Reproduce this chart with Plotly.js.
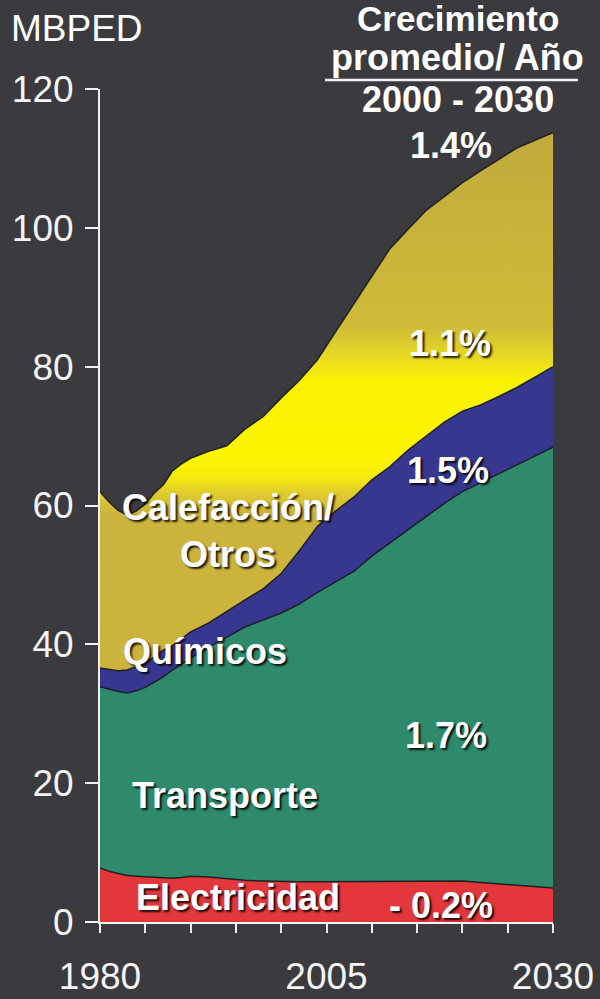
<!DOCTYPE html>
<html>
<head>
<meta charset="utf-8">
<script src="https://cdn.plot.ly/plotly-3.0.1.min.js"></script>
<style>
  html, body { margin: 0; padding: 0; background: #3b3a3f; }
  #chart { width: 600px; height: 999px; }
</style>
</head>
<body>
<div id="chart"></div>
<script>
// ---- data ----
const years = [1980,1981,1982,1983,1984,1985,1986,1987,1988,1989,1990,1992,1994,1996,1998,
               2000,2002,2004,2006,2008,2010,2012,2014,2016,2018,2020,2022,2024,2026,2028,2030];
const electricidad = [7.8,7.3,7.0,6.7,6.6,6.5,6.4,6.4,6.3,6.4,6.6,6.5,6.2,6.0,5.9,
                      5.8,5.8,5.8,5.8,5.8,5.8,5.8,5.8,5.9,5.9,5.9,5.7,5.5,5.3,5.1,4.9];
const transporte = [26.1,26.2,26.2,26.3,26.7,27.3,28.1,28.9,30.0,30.8,31.4,33.1,34.9,36.5,37.6,
                    38.7,40.0,41.7,43.2,44.7,46.9,48.8,50.8,52.6,54.4,56.1,57.6,59.1,60.6,62.1,63.5];
const quimicos = [2.7,2.9,3.0,3.3,3.5,3.5,3.7,3.9,3.5,3.6,3.8,3.5,3.7,3.9,4.5,
                  5.7,7.7,9.5,10.2,10.7,11.0,11.0,11.4,11.5,11.7,11.6,11.2,11.1,11.1,11.3,11.6];
const calefaccion = [25.4,24.1,23.1,22.3,22.4,22.9,23.6,23.8,25.2,25.2,25.0,24.7,23.8,24.6,24.8,
                     25.3,24.5,24.0,25.8,27.8,29.3,31.4,31.8,32.5,32.5,32.9,33.7,34.1,34.5,34.1,33.7];

const seriesLabels = ['Electricidad', 'Transporte', 'Químicos', 'Calefacción/<br>Otros'];
const growthLabels = ['- 0.2%', '1.7%', '1.5%', '1.1%', '1.4%'];
const headerLines = ['Crecimiento', 'promedio/ Año', '2000 - 2030'];
const yUnit = 'MBPED';
const yTickVals = [0, 20, 40, 60, 80, 100, 120];
const xTickVals = [1980,1985,1990,1995,2000,2005,2010,2015,2020,2025,2030];
const xTickText = ['1980','','','','','2005','','','','','2030'];

// ---- styling ----
const BG = '#3b3a3f';
const FONT = 'Liberation Sans, Arial, sans-serif';
const EDGE = {color: 'rgba(25,25,30,0.9)', width: 1.5};
const SHADOW = '2px 2px 2px rgba(0,0,0,0.85)';

const traces = [
  {x: years, y: electricidad, stackgroup: 'a', mode: 'lines', line: EDGE,
   fillcolor: '#e3373b', hoverinfo: 'skip'},
  {x: years, y: transporte, stackgroup: 'a', mode: 'lines', line: EDGE,
   fillcolor: '#2f8a6c', hoverinfo: 'skip'},
  {x: years, y: quimicos, stackgroup: 'a', mode: 'lines', line: EDGE,
   fillcolor: '#37378f', hoverinfo: 'skip'},
  {x: years, y: calefaccion, stackgroup: 'a', mode: 'lines', line: EDGE,
   fillcolor: '#cdb53c', hoverinfo: 'skip',
   fillgradient: {type: 'vertical', start: 0, stop: 120,
     colorscale: [[0, '#c9b23e'], [0.49, '#ccb43c'], [0.515, '#e0cc2e'], [0.535, '#f6ec0a'],
                  [0.56, '#fcf500'], [0.65, '#faf202'], [0.68, '#e6d824'], [0.715, '#cfbb38'],
                  [1, '#bda73e']]}}
];

// pixel -> paper helpers (plot area: x 100..553, y 89..922)
const PX0 = 100, PW = 453, PY0 = 922, PH = 833;
function ann(text, xp, yp, size, opts) {
  opts = opts || {};
  return Object.assign({
    xref: 'paper', yref: 'paper', x: (xp - PX0) / PW, y: (PY0 - yp) / PH,
    xanchor: 'center', yanchor: 'middle', showarrow: false, text: text,
    font: {family: FONT, size: size, color: '#ffffff', weight: opts.weight || 'bold',
           shadow: opts.shadow || 'none'}
  }, opts.extra || {});
}

const annotations = [
  ann(yUnit, 9, 28, 37, {weight: 'normal', extra: {xanchor: 'left'}}),
  ann(headerLines[0], 458, 18, 35),
  ann(headerLines[1], 457, 57, 36),
  ann(headerLines[2], 458, 100, 36),
  ann(growthLabels[4], 451, 145, 36),
  ann(growthLabels[3], 450, 343, 36, {shadow: SHADOW}),
  ann(growthLabels[2], 448, 470, 36, {shadow: SHADOW}),
  ann(growthLabels[1], 446, 735, 36, {shadow: SHADOW}),
  ann(growthLabels[0], 441, 905, 36, {shadow: SHADOW}),
  ann(seriesLabels[3], 228, 531, 36, {shadow: SHADOW}),
  ann(seriesLabels[2], 205, 651, 36, {shadow: SHADOW}),
  ann(seriesLabels[1], 225, 795, 36, {shadow: SHADOW}),
  ann(seriesLabels[0], 238, 897, 36, {shadow: SHADOW})
];

const layout = {
  width: 600, height: 999,
  margin: {l: PX0, r: 600 - PX0 - PW, t: PY0 - PH, b: 999 - PY0, pad: 0},
  paper_bgcolor: BG, plot_bgcolor: BG,
  showlegend: false,
  font: {family: FONT, color: '#ffffff'},
  xaxis: {
    range: [1980, 2030], tickvals: xTickVals, ticktext: xTickText,
    ticks: 'outside', ticklen: 9, tickwidth: 2, tickcolor: '#f2f2f2',
    showline: true, linecolor: '#f2f2f2', linewidth: 2,
    showgrid: false, zeroline: false,
    tickfont: {family: FONT, size: 37, color: '#f4f4f4'},
    ticklabelstandoff: 12
  },
  yaxis: {
    range: [0, 120], tickvals: yTickVals,
    ticks: 'outside', ticklen: 13, tickwidth: 2, tickcolor: '#f2f2f2',
    showline: true, linecolor: '#f2f2f2', linewidth: 2,
    showgrid: false, zeroline: false,
    tickfont: {family: FONT, size: 37, color: '#f4f4f4'},
    ticklabelstandoff: 4
  },
  shapes: [
    {type: 'line', xref: 'paper', yref: 'paper',
     x0: (325 - PX0) / PW, x1: (578 - PX0) / PW, y0: (PY0 - 80) / PH, y1: (PY0 - 80) / PH,
     line: {color: '#f2f2f2', width: 2.5}}
  ],
  annotations: annotations
};

Plotly.newPlot('chart', traces, layout, {staticPlot: true, displayModeBar: false});
</script>
</body>
</html>
